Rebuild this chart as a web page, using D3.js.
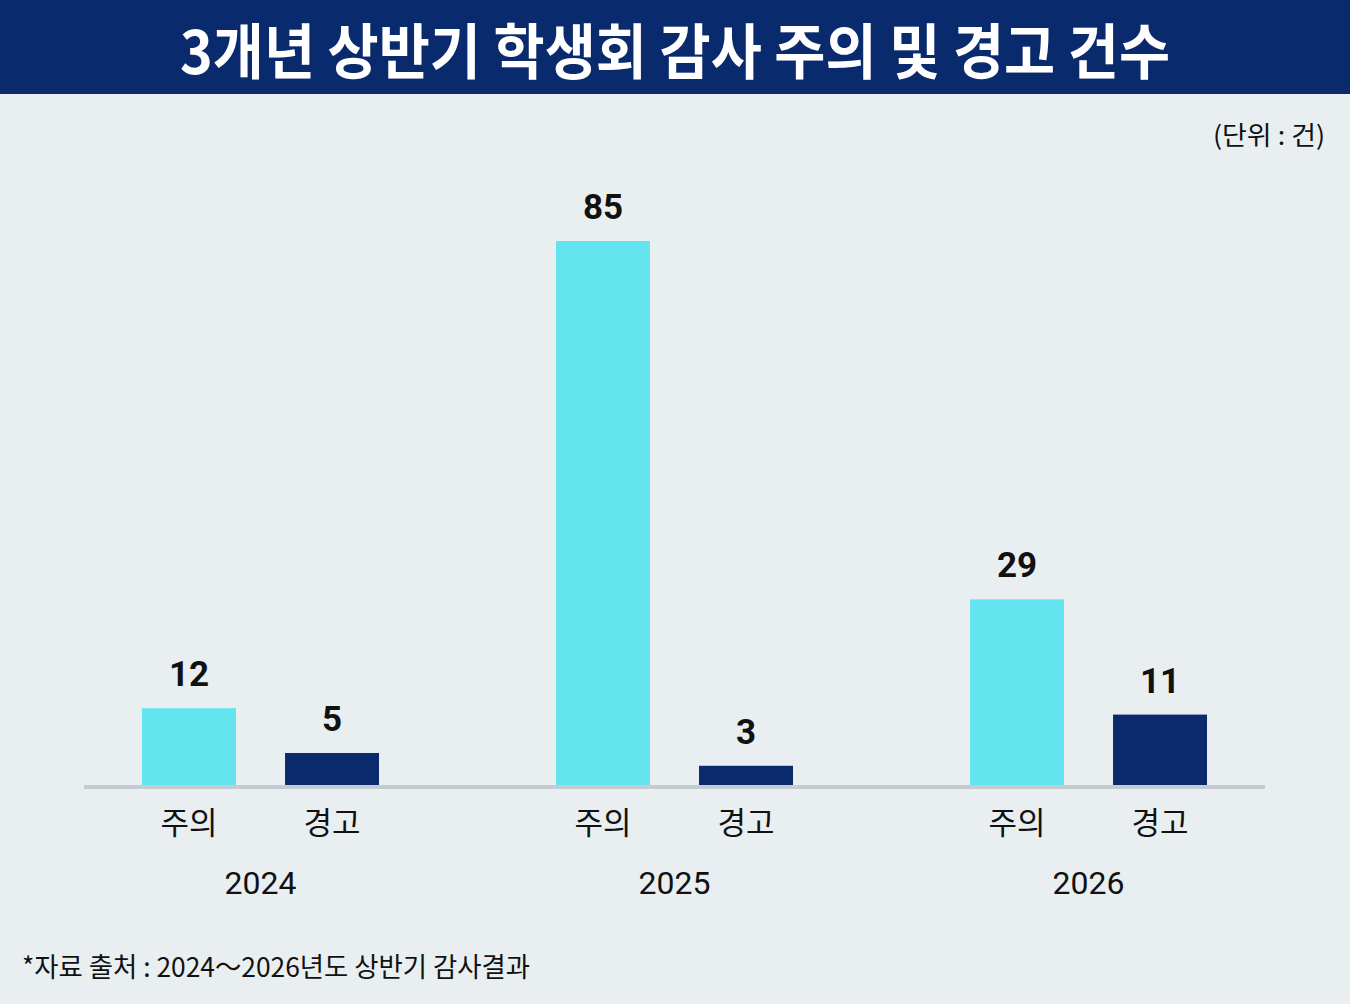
<!DOCTYPE html>
<html>
<head>
<meta charset="utf-8">
<script src="https://cdn.jsdelivr.net/npm/d3@7/dist/d3.min.js"></script>
<style>
  html, body { margin: 0; padding: 0; background: #e9eff0; }
  svg { display: block; }
</style>
</head>
<body>
<svg id="chart" width="1350" height="1004"></svg>
<script>
const years = ["2024", "2025", "2026"];
const types = ["주의", "경고"];
const cautionValues = [12, 85, 29];
const warningValues = [5, 3, 11];
const titleText = "3개년 상반기 학생회 감사 주의 및 경고 건수";
const unitText = "(단위 : 건)";
const sourceText = "*자료 출처 : 2024～2026년도 상반기 감사결과";

const colors = { "주의": "#63e4ef", "경고": "#0b2a6e" };
const W = 1350, H = 1004;
const baseline = 785;
const kr = "'Noto Sans CJK KR', 'Noto Sans', sans-serif";
const num = "Roboto, 'Noto Sans', sans-serif";

const data = years.map((y, i) => ({ year: y, values: [
  { type: types[0], value: cautionValues[i] },
  { type: types[1], value: warningValues[i] }
]}));

const svg = d3.select("#chart");
svg.append("rect").attr("width", W).attr("height", H).attr("fill", "#e9eff0");

// Title bar
svg.append("rect").attr("x", 0).attr("y", 0).attr("width", W).attr("height", 94).attr("fill", "#0a2a6e");
svg.append("text").attr("x", W / 2).attr("y", 47).attr("text-anchor", "middle")
  .attr("dominant-baseline", "central")
  .attr("font-family", kr).attr("font-weight", 700).attr("font-size", 60)
  .attr("fill", "#ffffff")
  .attr("textLength", 990).attr("lengthAdjust", "spacingAndGlyphs")
  .text(titleText);

// Unit
svg.append("text").attr("x", 1325).attr("y", 133).attr("text-anchor", "end")
  .attr("dominant-baseline", "central")
  .attr("font-family", kr).attr("font-size", 26).attr("fill", "#111")
  .attr("textLength", 112).attr("lengthAdjust", "spacingAndGlyphs")
  .text(unitText);

// Scales
const x0 = d3.scaleBand().domain(years).range([53.5, 1295.5]).padding(0);
const x1 = d3.scaleBand().domain(types).range([88.5, x0.bandwidth() - 88.5]).paddingInner(0.343).paddingOuter(0);
const y = d3.scaleLinear().domain([0, 85]).range([baseline, 241]);

const groups = svg.append("g").selectAll("g").data(data).join("g")
  .attr("transform", d => `translate(${x0(d.year)},0)`);

groups.selectAll("rect").data(d => d.values).join("rect")
  .attr("x", d => x1(d.type))
  .attr("y", d => y(d.value))
  .attr("width", x1.bandwidth())
  .attr("height", d => baseline - y(d.value))
  .attr("fill", d => colors[d.type]);

groups.selectAll("text.val").data(d => d.values).join("text")
  .attr("class", "val")
  .attr("x", d => x1(d.type) + x1.bandwidth() / 2)
  .attr("y", d => y(d.value) - 22)
  .attr("text-anchor", "middle")
  .attr("font-family", num).attr("font-weight", 700).attr("font-size", 35)
  .attr("fill", "#111")
  .text(d => d.value);

groups.selectAll("text.cat").data(d => d.values).join("text")
  .attr("class", "cat")
  .attr("x", d => x1(d.type) + x1.bandwidth() / 2)
  .attr("y", 820)
  .attr("dominant-baseline", "central")
  .attr("text-anchor", "middle")
  .attr("font-family", kr).attr("font-size", 31)
  .attr("fill", "#111")
  .text(d => d.type);

groups.append("text")
  .attr("x", x0.bandwidth() / 2)
  .attr("y", 883)
  .attr("dominant-baseline", "central")
  .attr("text-anchor", "middle")
  .attr("font-family", num).attr("font-size", 32)
  .attr("fill", "#111")
  .text(d => d.year);

// Axis line
svg.append("line").attr("x1", 84).attr("x2", 1265).attr("y1", 787).attr("y2", 787)
  .attr("stroke", "#c4ccd1").attr("stroke-width", 4);

// Source
svg.append("text").attr("x", 22).attr("y", 965)
  .attr("dominant-baseline", "central")
  .attr("font-family", kr).attr("font-size", 27).attr("fill", "#111")
  .attr("textLength", 508).attr("lengthAdjust", "spacingAndGlyphs")
  .text(sourceText);
</script>
</body>
</html>
